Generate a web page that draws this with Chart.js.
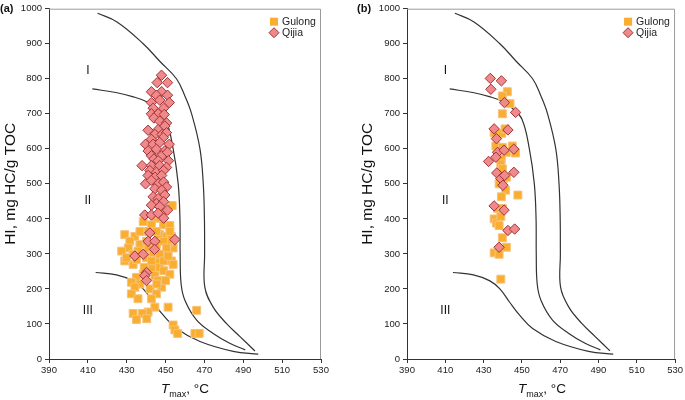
<!DOCTYPE html>
<html>
<head>
<meta charset="utf-8">
<script src="https://cdn.jsdelivr.net/npm/chart.js@4.4.1/dist/chart.umd.min.js"></script>
<style>
  body { margin: 0; background: #fff; font-family: "Liberation Sans", Arial, sans-serif; }
  #wrap { position: relative; width: 685px; height: 400px; overflow: hidden; }
  .panel { position: absolute; top: 0; height: 400px; }
  .tag { position: absolute; top: 2px; font-weight: bold; font-size: 11px; color: #111; }
  .xtitle { position: absolute; top: 381px; width: 120px; text-align: center; font-size: 13.5px; color: #111; }
  .xtitle sub { font-size: 9px; }
</style>
</head>
<body>
<div id="wrap">
  <div class="panel" style="left:0;width:340px"><canvas id="chartA" width="340" height="400"></canvas></div>
  <div class="panel" style="left:343px;width:342px"><canvas id="chartB" width="342" height="400"></canvas></div>
  <div class="tag" style="left:0">(a)</div>
  <div class="tag" style="left:357px">(b)</div>
  <div class="xtitle" style="left:125px"><i>T</i><sub>max</sub>, °C</div>
  <div class="xtitle" style="left:482px"><i>T</i><sub>max</sub>, °C</div>
</div>
<script>
// ---- data: [Tmax °C, HI mg HC/g TOC] ----
const qijiaA = [
  [447.9,810],[445.7,789],[451,789],[442.7,763],[448,763],[445.3,753],[451,753],[447,739],
  [442.7,732],[451.9,732],[443.6,716],[449,716],[442.7,700],[446.2,700],[449.3,698],[444,688],
  [447,679],[450.5,674],[441,653],[446.2,655],[449.6,665],[444.5,641],[448.2,641],[450.5,646],
  [442.7,627],[448.8,632],[439.7,613],[443.6,613],[447,618],[451.9,613],[441,594],[445.3,599],
  [449.6,594],[442.7,580],[448,580],[451,590],[444,571],[446.2,566],[451.5,566],[437.9,552],
  [442.7,552],[447,552],[450.5,547],[441.9,538],[445.3,533],[449,538],[441,524],[444.5,519],
  [448,524],[439.7,500],[442.7,510],[446.2,500],[449,505],[450.5,491],[444.5,486],[448,482],
  [449.6,468],[443.6,463],[446.2,458],[445.3,444],[449,449],[442.7,439],[447,435],[451,425],
  [439.3,411],[442.7,411],[446.2,416],[449,402],[441.9,360],[441,336],[444.5,336],[444.3,313],
  [454.8,341],[434.2,294],[438.5,299],[440.2,247],[439.3,238],[440.2,224]
];
const gulongA = [
  [453.4,438],[438.5,392],[445.3,402],[449,383],[452.2,381],[442.7,383],[429,355],[434.2,350],
  [431.6,336],[436.8,327],[430.8,317],[427.4,308],[429,280],[433.3,270],[435,284],[441,317],
  [447,355],[450.5,350],[453,350],[453.9,317],[451.3,331],[445.3,327],[440.2,289],[445.3,284],
  [449.6,299],[453,280],[453.9,270],[447,261],[442.7,261],[444.5,238],[449,252],[452.2,242],
  [438.5,242],[435,233],[432.4,219],[436.8,214],[442,200],[448,205],[434.2,205],[432.4,186],
  [435.8,172],[445.3,186],[442.7,172],[444.5,148],[451.3,148],[441,134],[433.3,130],[438.1,130],
  [435,113],[440.3,115],[453.9,97],[454.8,83],[456.2,73],[466,139],[465.1,73],[467.3,73],
  [447,411],[448,420],[445.3,364],[449,336],[443.6,303],[440.2,336],[450.5,317],[447,299],
  [442.7,280],[439,261],[449,280],[451.3,294],[441,364],[436.8,364],[435.8,308],[433.3,299],
  [429.9,289],[452.2,364],[446,224],[450,224],[445.5,214]
];
const qijiaB = [
  [433.5,801],[439.3,794],[433.8,770],[440.9,732],[446.7,704],[435.5,657],[442.7,654],[436.7,629],
  [437.3,590],[436.4,576],[440.7,596],[432.6,564],[445.8,599],[436.9,531],[439,515],[441,524],
  [440.1,496],[445.8,533],[435.5,437],[440.7,425],[442.7,367],[446.2,371],[438.1,319]
];
const gulongB = [
  [442.4,763],[439.8,751],[443.8,729],[439.8,700],[435.5,646],[439.5,644],[441.2,657],[436.4,608],
  [439.8,604],[441.9,590],[445,608],[446.7,588],[439.3,571],[439,557],[439.8,543],[438.1,500],
  [440.3,515],[441.9,519],[441.5,482],[439.3,463],[447.9,468],[437.3,430],[439.8,430],[435.5,400],
  [436.7,388],[438.1,381],[439,407],[439.8,346],[441.9,319],[435.5,303],[438.1,299],[439,228]
];

// kerogen-type boundary curves (same in both panels)
const curveUpper = [
  [415,987],[425,962],[438.5,900],[447,850],[455.6,800],[460,750],[463.4,700],[467.7,600],
  [469.4,500],[470,400],[470.1,300],[470.2,205],[474.5,148],[481.4,101],[488.3,64],[496,23]
];
const curveMiddle = [
  [412.3,771],[425,760],[433,749],[440,735],[445,716],[450,685],[453.9,600],[456.5,500],
  [457.4,400],[457.5,300],[458,214],[460,167],[466,111],[474.5,73],[483,45],[491,26]
];
const curveLower = [
  [414,247],[424.7,240],[433.3,223],[438.5,200],[443.6,162],[448.8,125],[455.6,87],
  [467.7,50],[484.8,22],[497.7,14]
];

const xTicks = [390, 410, 430, 450, 470, 490, 510, 530];
const yTicks = [0, 100, 200, 300, 400, 500, 600, 700, 800, 900, 1000];
const regionNames = ['I', 'II', 'III'];
const regionHI = [824, 452, 137];
const regionTmax = 410;
const seriesNames = ['Gulong', 'Qijia'];

const FONT = '"Liberation Sans", Arial, sans-serif';
const toXY = arr => arr.map(p => ({ x: p[0], y: p[1] }));

// grey frame on top/right, roman labels, in-plot legend
const decor = {
  id: 'decor',
  beforeDatasetsDraw(chart) {
    const { ctx, chartArea: a } = chart;
    ctx.save();
    ctx.strokeStyle = '#9a9a9a';
    ctx.lineWidth = 1;
    ctx.beginPath();
    ctx.moveTo(a.left, a.top + 0.5);
    ctx.lineTo(a.right - 0.5, a.top + 0.5);
    ctx.lineTo(a.right - 0.5, a.bottom);
    ctx.stroke();
    ctx.fillStyle = '#111';
    ctx.font = '12px ' + FONT;
    ctx.textAlign = 'center';
    ctx.textBaseline = 'middle';
    const sx = chart.scales.x, sy = chart.scales.y;
    regionNames.forEach((t, i) => {
      ctx.fillText(t, sx.getPixelForValue(regionTmax), sy.getPixelForValue(regionHI[i]));
    });
    ctx.restore();
  },
  afterDraw(chart) {
    const { ctx, chartArea: a } = chart;
    const mx = a.right - 47, y1 = a.top + 13, y2 = a.top + 24;
    ctx.save();
    ctx.fillStyle = '#F9AE2F';
    ctx.fillRect(mx - 4, y1 - 4, 8, 8);
    ctx.beginPath();
    ctx.moveTo(mx, y2 - 5); ctx.lineTo(mx + 5, y2); ctx.lineTo(mx, y2 + 5); ctx.lineTo(mx - 5, y2);
    ctx.closePath();
    ctx.fillStyle = '#F08A8A';
    ctx.fill();
    ctx.strokeStyle = '#A23238';
    ctx.stroke();
    ctx.fillStyle = '#222';
    ctx.font = '10.5px ' + FONT;
    ctx.textBaseline = 'middle';
    ctx.fillText(seriesNames[0], mx + 8, y1);
    ctx.fillText(seriesNames[1], mx + 8, y2);
    ctx.restore();
  }
};

function curveSet(pts) {
  return {
    data: toXY(pts), showLine: true, pointRadius: 0, borderColor: '#333',
    borderWidth: 1.2, tension: 0.4, fill: false, order: 2
  };
}

function makeChart(id, gulong, qijia, axisWidth, titlePad, rightPad) {
  return new Chart(document.getElementById(id), {
    type: 'scatter',
    data: {
      datasets: [
        { label: seriesNames[1], data: toXY(qijia), pointStyle: 'rectRot', pointRadius: 5.2,
          backgroundColor: '#F08A8A', borderColor: '#A23238', borderWidth: 1, order: 0 },
        { label: seriesNames[0], data: toXY(gulong), pointStyle: 'rect', pointRadius: 5.6,
          backgroundColor: '#F9AE2F', borderColor: '#F6C27E', borderWidth: 1, order: 1 },
        curveSet(curveUpper),
        curveSet(curveMiddle),
        curveSet(curveLower)
      ]
    },
    options: {
      responsive: false,
      animation: false,
      layout: { padding: { top: 4, right: rightPad, bottom: 0, left: 0 } },
      plugins: { legend: { display: false }, tooltip: { enabled: false } },
      scales: {
        x: {
          type: 'linear', min: 390, max: 530,
          afterBuildTicks: s => { s.ticks = xTicks.map(v => ({ value: v })); },
          afterFit: s => { s.height = 41; },
          grid: { drawOnChartArea: false, tickLength: 4, color: '#333' },
          border: { color: '#333' },
          ticks: { color: '#222', font: { family: FONT, size: 9.5 }, padding: 2,
                   callback: v => String(v) }
        },
        y: {
          type: 'linear', min: 0, max: 1000,
          afterBuildTicks: s => { s.ticks = yTicks.map(v => ({ value: v })); },
          afterFit: s => { s.width = axisWidth; },
          grid: { drawOnChartArea: false, tickLength: 4, color: '#333' },
          border: { color: '#333' },
          ticks: { color: '#222', font: { family: FONT, size: 9.5 }, padding: 3,
                   callback: v => String(v) },
          title: { display: true, text: 'HI, mg HC/g TOC', color: '#111',
                   font: { family: FONT, size: 15.5 }, padding: { top: titlePad - 1, bottom: 0 } }
        }
      }
    },
    plugins: [decor]
  });
}

makeChart('chartA', gulongA, qijiaA, 49, 2, 19);
makeChart('chartB', gulongB, qijiaB, 64, 16, 7);
</script>
</body>
</html>
